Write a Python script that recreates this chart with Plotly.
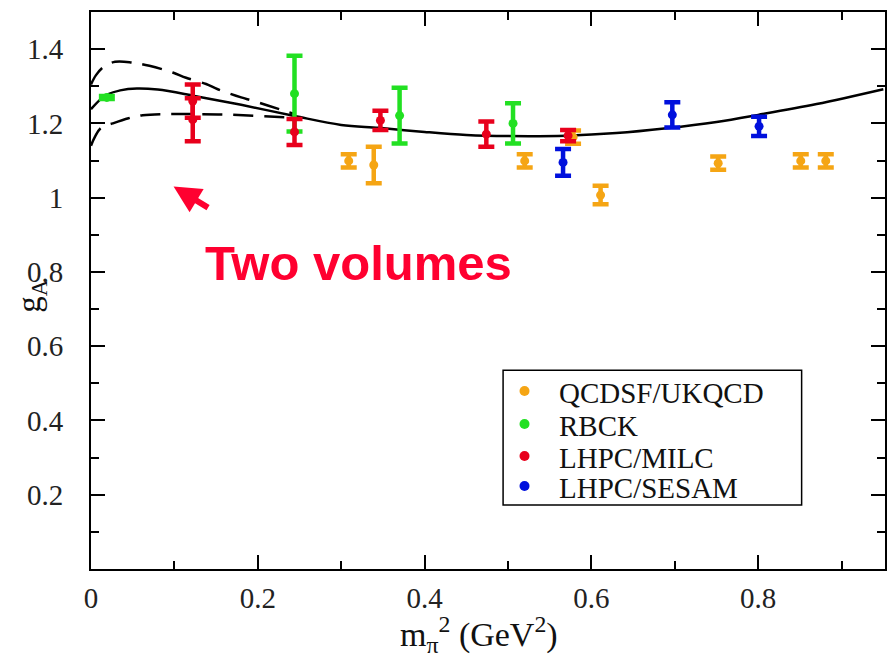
import plotly.graph_objects as go

# ---------------- data ----------------
qcdsf_x = [0.309, 0.339, 0.520, 0.578, 0.611, 0.752, 0.851, 0.881]
qcdsf_y = [1.099, 1.088, 1.099, 1.163, 1.007, 1.093, 1.099, 1.099]
qcdsf_e = [0.018, 0.049, 0.018, 0.018, 0.025, 0.018, 0.018, 0.018]

rbck_x = [0.019, 0.244, 0.370, 0.506]
rbck_y = [1.270, 1.280, 1.221, 1.200]
rbck_e = [0.004, 0.102, 0.075, 0.054]

milc_x = [0.122, 0.122, 0.244, 0.347, 0.474, 0.572]
milc_y = [1.260, 1.210, 1.177, 1.208, 1.171, 1.167]
milc_e = [0.045, 0.058, 0.035, 0.026, 0.034, 0.015]

sesam_x = [0.566, 0.697, 0.801]
sesam_y = [1.095, 1.223, 1.192]
sesam_e = [0.036, 0.034, 0.026]

fit_x = [0.0, 0.01, 0.02, 0.035, 0.055, 0.08, 0.124, 0.18, 0.244, 0.3, 0.345,
         0.4, 0.45, 0.5, 0.57, 0.63, 0.69, 0.75, 0.8, 0.87, 0.95]
fit_y = [1.238, 1.262, 1.278, 1.289, 1.294, 1.291, 1.274, 1.25, 1.22, 1.196, 1.188,
         1.177, 1.169, 1.166, 1.167, 1.174, 1.187, 1.204, 1.223, 1.252, 1.292]

up_x = [0.0, 0.006, 0.015, 0.029, 0.049, 0.07, 0.098, 0.114, 0.138, 0.152, 0.18,
        0.194, 0.226, 0.245]
up_y = [1.305, 1.33, 1.352, 1.366, 1.364, 1.355, 1.337, 1.323, 1.306, 1.292, 1.27,
        1.261, 1.238, 1.225]

lo_x = [0.0, 0.005, 0.012, 0.026, 0.045, 0.062, 0.09, 0.124, 0.16, 0.2, 0.245]
lo_y = [1.14, 1.165, 1.188, 1.2, 1.214, 1.222, 1.225, 1.225, 1.224, 1.22, 1.215]

legend_names = ["QCDSF/UKQCD", "RBCK", "LHPC/MILC", "LHPC/SESAM"]
legend_colors = ["#F5A514", "#22E022", "#E8001C", "#0010DD"]

x_tickvals = [0, 0.2, 0.4, 0.6, 0.8]
x_ticktext = ["0", "0.2", "0.4", "0.6", "0.8"]
y_tickvals = [0.2, 0.4, 0.6, 0.8, 1.0, 1.2, 1.4]
y_ticktext = ["0.2", "0.4", "0.6", "0.8", "1", "1.2", "1.4"]

SERIF = "Liberation Serif, Times New Roman, Times, serif"

# ---------------- figure ----------------
fig = go.Figure()

curve_style = dict(color="black", width=2.5)
fig.add_trace(go.Scatter(x=fit_x, y=fit_y, mode="lines", line=dict(**curve_style, shape="spline"),
                         showlegend=False, hoverinfo="skip"))
fig.add_trace(go.Scatter(x=up_x, y=up_y, mode="lines",
                         line=dict(**curve_style, shape="spline", dash="20px,11px"),
                         showlegend=False, hoverinfo="skip"))
fig.add_trace(go.Scatter(x=lo_x, y=lo_y, mode="lines",
                         line=dict(**curve_style, shape="spline", dash="20px,11px"),
                         showlegend=False, hoverinfo="skip"))

series = [
    (qcdsf_x, qcdsf_y, qcdsf_e),
    (rbck_x, rbck_y, rbck_e),
    (milc_x, milc_y, milc_e),
    (sesam_x, sesam_y, sesam_e),
]
for (xs, ys, es), name, col in zip(series, legend_names, legend_colors):
    fig.add_trace(go.Scatter(
        x=xs, y=ys, mode="markers", name=name,
        marker=dict(color=col, size=9, symbol="circle"),
        error_y=dict(type="data", array=es, visible=True, color=col, thickness=4.5, width=8),
        showlegend=False,
    ))

# ---------------- custom legend (xmgrace style) ----------------
shapes = [dict(type="rect", xref="paper", yref="paper", x0=0.519, x1=0.895, y0=0.115, y1=0.357,
               line=dict(color="black", width=1.5), fillcolor="white", layer="above")]
annotations = []
leg_y = [0.3196, 0.2603, 0.2029, 0.149]
for name, col, yy in zip(legend_names, legend_colors, leg_y):
    shapes.append(dict(type="circle", xref="paper", yref="paper",
                       xsizemode="pixel", ysizemode="pixel",
                       xanchor=0.546, yanchor=yy, x0=-5, x1=5, y0=-5, y1=5,
                       fillcolor=col, line=dict(color=col, width=0), layer="above"))
    annotations.append(dict(xref="paper", yref="paper", x=0.588, y=yy - 0.003, xanchor="left",
                            yanchor="middle", text=name, showarrow=False, borderpad=0,
                            font=dict(family=SERIF, size=29, color="#111")))

# "Two volumes" label and arrow
annotations.append(dict(xref="x", yref="y", x=0.321, y=0.825, text="<b>Two volumes</b>",
                        showarrow=False, xanchor="center", yanchor="middle",
                        font=dict(family="Liberation Sans, Arial, sans-serif", size=49,
                                  color="#FF0030")))
annotations.append(dict(xref="x", yref="y", x=0.099, y=1.030, ax=36, ay=22, text="",
                        showarrow=True, arrowhead=2, arrowsize=0.9, arrowwidth=6,
                        arrowcolor="#FF0030"))

# axis titles
annotations.append(dict(xref="paper", yref="paper", x=0.489, y=-0.118,
                        text="m<sub>π</sub><sup>2</sup> (GeV<sup>2</sup>)", showarrow=False,
                        xanchor="center", yanchor="middle",
                        font=dict(family=SERIF, size=34, color="#111")))
annotations.append(dict(xref="paper", yref="paper", x=-0.076, y=0.49,
                        text="g<sub>A</sub>", showarrow=False, textangle=-90,
                        xanchor="center", yanchor="middle",
                        font=dict(family=SERIF, size=33, color="#111")))

axis_common = dict(
    showline=True, linecolor="black", linewidth=2, mirror="ticks",
    ticks="inside", ticklen=14, tickwidth=2, tickcolor="black",
    showgrid=False, zeroline=False,
    tickfont=dict(family=SERIF, size=29, color="#222"),
)

fig.update_layout(
    width=894, height=663,
    margin=dict(l=91, r=7, t=12, b=94),
    paper_bgcolor="white", plot_bgcolor="white",
    showlegend=False,
    font=dict(family=SERIF),
    shapes=shapes, annotations=annotations,
    xaxis=dict(range=[0, 0.952], tickvals=x_tickvals, ticktext=x_ticktext,
               minor=dict(dtick=0.1, tick0=0, ticks="inside", ticklen=8, tickwidth=2,
                          tickcolor="black", showgrid=False),
               ticklabelstandoff=2, **axis_common),
    yaxis=dict(range=[0, 1.5], tickvals=y_tickvals, ticktext=y_ticktext,
               minor=dict(dtick=0.1, tick0=0, ticks="inside", ticklen=8, tickwidth=2,
                          tickcolor="black", showgrid=False),
               ticklabelstandoff=20, **axis_common),
)

fig.write_html("out.html")
